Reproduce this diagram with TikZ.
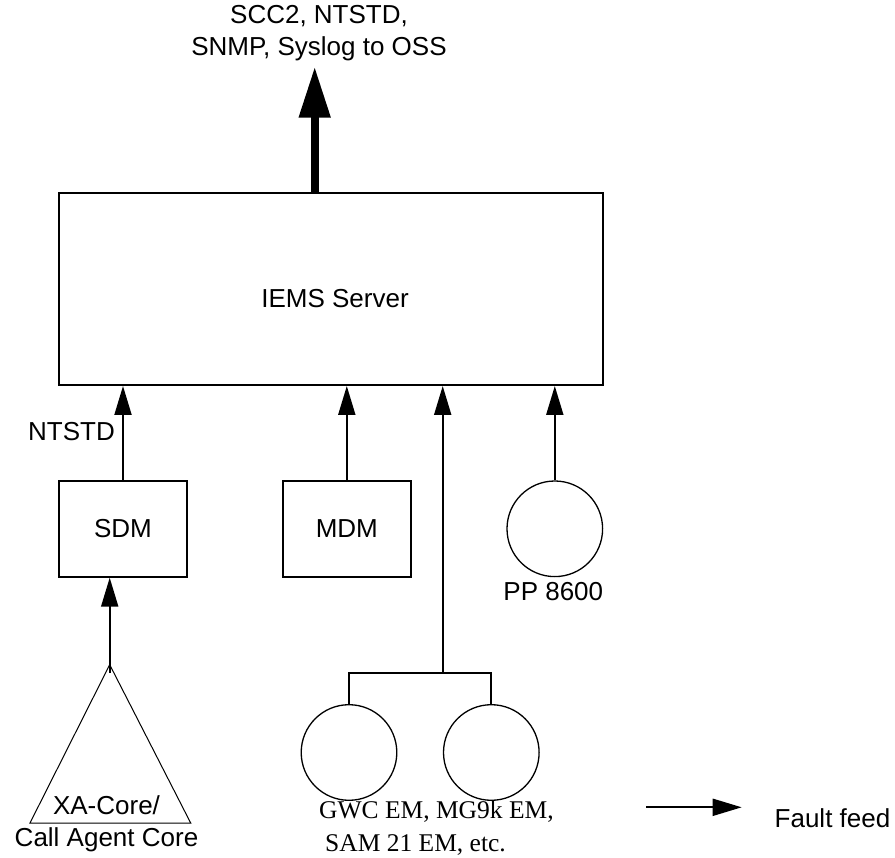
\documentclass[tikz,border=0pt]{standalone}
\usepackage{fontspec}
\setmainfont{Liberation Sans}
\newfontfamily\timesfont{Liberation Serif}
\usetikzlibrary{arrows.meta}

\begin{document}
\begin{tikzpicture}[
    x=1pt, y=-1pt,
    every node/.style={font=\fontsize{26}{32}\selectfont},
    box/.style={draw, line width=2pt, inner sep=0pt},
    em/.style={draw, circle, line width=1.3pt, minimum size=95.6pt, inner sep=0pt},
    feed/.style={line width=2pt, -{Triangle[length=29pt, width=17pt]}},
    link/.style={line width=2pt}
]
\useasboundingbox (0,0) rectangle (895,858);

\node[box, minimum width=544pt, minimum height=192pt] (iems) at (331,289) {};
\node (iemslbl) at (335,299) {IEMS Server};

\coordinate (oss) at (314.7,66.7);
\node[align=center] (osslbl) at (319,33) {SCC2, NTSTD,\\SNMP, Syslog to OSS};
\draw[line width=8pt, -{Triangle[length=51pt, width=30pt]}] (iems.north -| oss) -- (oss);

\node[box, minimum width=128pt, minimum height=96pt] (sdm) at (123,528.7) {SDM};
\node[box, minimum width=128pt, minimum height=96pt] (mdm) at (346.8,528.7) {MDM};
\node[em] (pp) at (554.8,528.8) {};
\node (pplbl) at (553.3,591.3) {PP 8600};
\node (ntlbl) at (71.5,432) {NTSTD};

% XA-Core
\coordinate (xa) at (109.7,664.7);
\draw[line width=1pt] (xa) -- (30,823) -- (190.7,823) -- cycle;
\node[align=center] (xalbl) at (106.5,824) {XA-Core/\\Call Agent Core};

% element managers
\node[em] (gwc) at (349,752.5) {};
\node[em] (sam) at (491.3,752.5) {};
\node[font=\timesfont\fontsize{25.5}{33.4}\selectfont, align=left, anchor=west, inner sep=0pt] (emlbl) at (319,828) {GWC EM, MG9k EM,\\\hspace*{6pt}SAM 21 EM, etc.};
\coordinate (jn) at (442.7,673);

\draw[feed] ([yshift=-8pt]xa) -- (xa |- sdm.south);
\draw[feed] (sdm.north) -- (sdm.north |- iems.south);
\draw[feed] (mdm.north) -- (mdm.north |- iems.south);
\draw[feed] (pp.north) -- (pp.north |- iems.south);
\draw[link] (gwc.north) |- (jn) -| (sam.north);
\draw[feed] (jn) -- (jn |- iems.south);

% legend
\coordinate (lgfrom) at (646,807.3);
\coordinate (lgto) at (741.7,807.3);
\draw[feed] (lgfrom) -- (lgto);
\node (lglbl) at (832.5,818.7) {Fault feed};
\end{tikzpicture}
\end{document}
